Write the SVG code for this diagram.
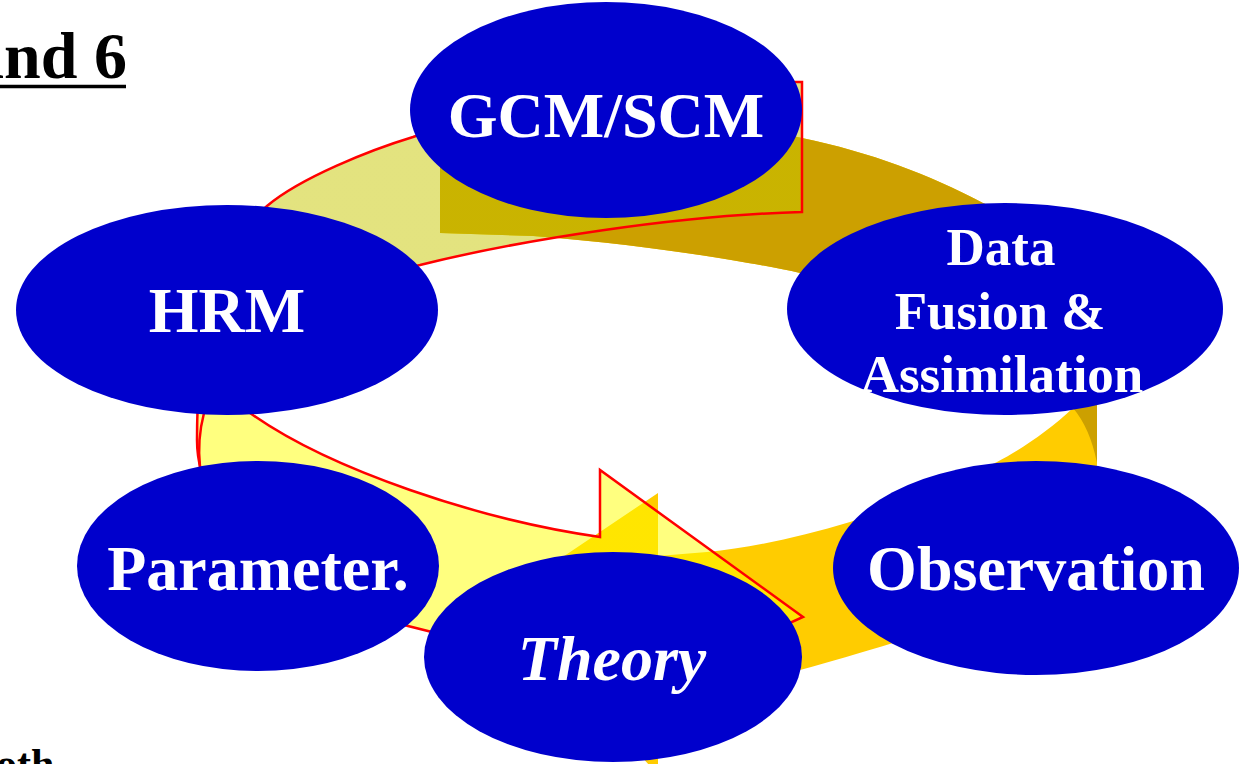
<svg xmlns="http://www.w3.org/2000/svg" width="1240" height="764" viewBox="0 0 1240 764">
<defs>
<style>
.node{fill:#0000CC}
.lbl{font-family:"Liberation Serif","Times New Roman",serif;font-weight:bold;fill:#FFFFFF;text-anchor:middle}
.title{font-family:"Liberation Serif","Times New Roman",serif;font-weight:bold;fill:#000000}
.red{fill:none;stroke:#FF0000;stroke-width:2.5;stroke-linejoin:miter}
</style>
<linearGradient id="frontGrad" gradientUnits="userSpaceOnUse" x1="0" y1="270" x2="0" y2="400">
<stop offset="0" stop-color="#C7C700"/>
<stop offset="1" stop-color="#FFFF00"/>
</linearGradient>
</defs>
<rect width="1240" height="764" fill="#FFFFFF"/>

<text class="title" x="127" y="78" font-size="66" text-anchor="end">and 6</text>
<line x1="0" y1="86.5" x2="126" y2="86.5" stroke="#000000" stroke-width="3.5"/>
<text class="title" x="-4" y="778" font-size="42">oth</text>

<g id="connectors">
<path id="gold-arrow" fill="#FFCC00" d="M 440,125 C 550,115 700,115 802,138 C 870,152 930,175 983,203 C 1060,235 1097,330 1097,405 L 1097,463 C 1097,540 1000,610 893,643 C 860,653 830,662 800,670 C 760,682 710,692 658,698 L 658,775 L 500,599 L 658,493 L 658,556 L 707,552 C 750,548 800,537 850,522 C 900,505 950,485 997,462 C 1020,450 1050,430 1073,408 C 1040,350 900,300 800,273 C 750,262 650,245 533,236 L 440,233 Z"/>
<path id="gold-back" fill="#CCA000" d="M 440,125 C 550,115 700,115 802,138 C 870,152 930,175 983,203 C 1060,235 1097,330 1097,405 L 1097,463 Q 1090,428 1073,408 C 1040,350 900,300 800,273 C 750,262 650,245 533,236 L 440,233 Z"/>
<path id="front-arrow" fill="url(#frontGrad)" fill-opacity="0.5" d="M 802,82 L 780,82 C 650,84 500,105 413,137 C 370,150 300,178 267,206 C 215,250 197,340 197,440 C 197,530 300,600 408,626 C 470,643 540,650 600,652 L 600,709 L 803,617 L 600,470 L 600,537 C 480,520 330,470 250,413 C 215,385 260,300 420,265 C 520,240 680,215 802,212 Z"/>
<path class="red" d="M 802,82 L 780,82 C 650,84 500,105 413,137 C 370,150 300,178 267,206 C 215,250 197,340 197,440 C 197,530 300,600 408,626 C 470,643 540,650 600,652 L 600,709 L 803,617 L 600,470 L 600,537 C 480,520 330,470 250,413 C 215,385 260,300 420,265 C 520,240 680,215 802,212 Z"/>
<path class="red" d="M 204,413 Q 197,440 200,467"/>
</g>

<g id="node-gcm">
<ellipse class="node" cx="606" cy="110" rx="196" ry="108"/>
<text class="lbl" x="606" y="137" font-size="64">GCM/SCM</text>
</g>
<g id="node-hrm">
<ellipse class="node" cx="227" cy="310" rx="211" ry="105"/>
<text class="lbl" x="227" y="332" font-size="64">HRM</text>
</g>
<g id="node-data">
<ellipse class="node" cx="1005" cy="309" rx="218" ry="106"/>
<text class="lbl" x="1001" y="265" font-size="53">Data</text>
<text class="lbl" x="1000" y="329" font-size="53">Fusion &amp;</text>
<text class="lbl" x="1002" y="392" font-size="53">Assimilation</text>
</g>
<g id="node-param">
<ellipse class="node" cx="258" cy="566" rx="181" ry="105"/>
<text class="lbl" x="258" y="590" font-size="64">Parameter.</text>
</g>
<g id="node-obs">
<ellipse class="node" cx="1036" cy="568" rx="203" ry="107"/>
<text class="lbl" x="1036" y="590" font-size="64">Observation</text>
</g>
<g id="node-theory">
<ellipse class="node" cx="613" cy="657" rx="189" ry="105"/>
<text class="lbl" x="612" y="680" font-size="64" font-style="italic">Theory</text>
</g>
</svg>
